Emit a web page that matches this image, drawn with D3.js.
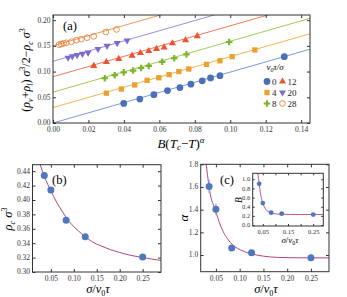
<!DOCTYPE html>
<html>
<head>
<meta charset="utf-8">
<script src="https://cdn.jsdelivr.net/npm/d3@7"></script>
<style>
  body { margin: 0; background: #fff; }
  svg { display: block; font-family: "Liberation Serif", "DejaVu Serif", serif; }
  .tick text { font-size: 7.5px; fill: #333; font-family: "Liberation Serif", serif; }
  .tick line { stroke: #333; }
  .domain { stroke: none; }
</style>
</head>
<body>
<div id="chart"></div>
<script>
// ---- panel (a): one series per v0*tau/sigma
var seriesNames = ["0", "4", "8", "12", "20", "28"];
var seriesColors = ["#4a70b8", "#eaa12e", "#7db530", "#ee5230", "#7a6cce", "#e8823c"];
var lineColors = ["#7c9ad6", "#f2b451", "#9fcc55", "#f07a5a", "#9a8fe0", "#eb9a5a"];
var fitIntercepts = [0.0, 0.03, 0.06, 0.09, 0.12, 0.15];
var fitSlope = 0.99;

var x0 = [0.0399, 0.0490, 0.0569, 0.0646, 0.0716, 0.0778, 0.0842, 0.0889, 0.0942, 0.1305];
var y0 = [0.0380, 0.0465, 0.0550, 0.0630, 0.0690, 0.0755, 0.0820, 0.0877, 0.0920, 0.1290];
var x4 = [0.0301, 0.0386, 0.0461, 0.0531, 0.0597, 0.0655, 0.0710, 0.0766, 0.0866, 0.0942, 0.1011, 0.1139];
var y4 = [0.0580, 0.0660, 0.0740, 0.0830, 0.0880, 0.0940, 0.1000, 0.1050, 0.1140, 0.1210, 0.1290, 0.1420];
var x8 = [0.0292, 0.0348, 0.0399, 0.0452, 0.0497, 0.0540, 0.0616, 0.0684, 0.0753, 0.0994];
var y8 = [0.0870, 0.0930, 0.0985, 0.1020, 0.1070, 0.1110, 0.1190, 0.1260, 0.1335, 0.1575];
var x12 = [0.0230, 0.0301, 0.0371, 0.0446, 0.0493, 0.0540, 0.0584, 0.0627, 0.0674, 0.0748, 0.0814];
var y12 = [0.1110, 0.1185, 0.1245, 0.1310, 0.1360, 0.1400, 0.1440, 0.1470, 0.1550, 0.1610, 0.1690];
var x20 = [0.0085, 0.0109, 0.0136, 0.0166, 0.0198, 0.0254, 0.0305, 0.0362, 0.0418];
var y20 = [0.1270, 0.1297, 0.1320, 0.1345, 0.1370, 0.1440, 0.1500, 0.1555, 0.1605];
var x28 = [0.0034, 0.0047, 0.0060, 0.0075, 0.0104, 0.0132, 0.0160, 0.0192, 0.0230, 0.0298, 0.0358];
var y28 = [0.1523, 0.1535, 0.1550, 0.1560, 0.1580, 0.1610, 0.1630, 0.1660, 0.1685, 0.1770, 0.1820];

var aXTicks = [0, 0.02, 0.04, 0.06, 0.08, 0.10, 0.12, 0.14];
var aYTicks = [0, 0.05, 0.10, 0.15, 0.20];

// ---- panels (b), (c) and inset: x = sigma / (v0 tau)
var invSpeed = [0.0357, 0.05, 0.0833, 0.125, 0.25];
var rhoC = [0.434, 0.414, 0.372, 0.349, 0.321];
var alpha = [1.604, 1.404, 1.062, 1.020, 0.975];
var alphaErr = [0.06, 0.05, 0.025, 0.015, 0.03];
var bAmp = [0.90, 0.48, 0.27, 0.25, 0.23];

// fitted curves
var bCurveX = [0.024, 0.030, 0.0357, 0.043, 0.05, 0.06, 0.07, 0.08, 0.09, 0.10, 0.11, 0.125, 0.14, 0.16, 0.18, 0.20, 0.225, 0.25, 0.27, 0.29];
var bCurveY = [0.455, 0.443, 0.433, 0.422, 0.413, 0.400, 0.389, 0.379, 0.370, 0.363, 0.357, 0.349, 0.342, 0.336, 0.331, 0.327, 0.323, 0.320, 0.318, 0.316];
var cCurveX = [0.028, 0.031, 0.0357, 0.040, 0.045, 0.05, 0.057, 0.065, 0.075, 0.085, 0.095, 0.11, 0.125, 0.15, 0.18, 0.21, 0.25, 0.29];
var cCurveY = [1.85, 1.75, 1.60, 1.50, 1.44, 1.38, 1.29, 1.21, 1.14, 1.09, 1.06, 1.03, 1.01, 0.99, 0.979, 0.976, 0.975, 0.975];
var iCurveX = [0.030, 0.033, 0.0357, 0.040, 0.045, 0.05, 0.056, 0.063, 0.070, 0.083, 0.095, 0.11, 0.125, 0.16, 0.20, 0.25, 0.29];
var iCurveY = [1.15, 1.02, 0.90, 0.72, 0.58, 0.48, 0.40, 0.335, 0.30, 0.265, 0.250, 0.240, 0.236, 0.232, 0.230, 0.230, 0.230];

var sXTicks = [0.05, 0.10, 0.15, 0.20, 0.25];
var iXLabels = [0.05, 0.15, 0.25];
var bYTicks = [0.30, 0.32, 0.34, 0.36, 0.38, 0.40, 0.42, 0.44];
var cYTicks = [1.0, 1.2, 1.4, 1.6, 1.8];
var iYTicks = [0.0, 0.2, 0.4, 0.6, 0.8, 1.0];

var W = 347, H = 297;
var svg = d3.select("#chart").append("svg").attr("width", W).attr("height", H);

function frame(x, y, xt, yt, fx, fy, fs, tl) {
	var g = svg.append("g");
	var r = x.range(), s = y.range();
	tl = tl || 3;
	g.append("g").attr("transform", "translate(0," + s[0] + ")")
		.call(d3.axisBottom(x).tickValues(xt).tickFormat(fx).tickSizeInner(-tl).tickSizeOuter(0).tickPadding(3.5));
	g.append("g").attr("transform", "translate(0," + s[1] + ")")
		.call(d3.axisTop(x).tickValues(xt).tickFormat("").tickSizeInner(-tl).tickSizeOuter(0));
	var yl = g.append("g").attr("transform", "translate(" + r[0] + ",0)")
		.call(d3.axisLeft(y).tickValues(yt).tickFormat(fy).tickSizeInner(-tl).tickSizeOuter(0).tickPadding(2.5));
	yl.selectAll(".tick text").attr("dy", "0.25em");
	g.append("g").attr("transform", "translate(" + r[1] + ",0)")
		.call(d3.axisRight(y).tickValues(yt).tickFormat("").tickSizeInner(-tl).tickSizeOuter(0));
	if (fs) g.selectAll(".tick text").style("font-size", fs + "px");
	g.append("rect").attr("x", r[0]).attr("y", s[1])
		.attr("width", r[1] - r[0]).attr("height", s[0] - s[1])
		.attr("fill", "none").attr("stroke", "#333").attr("stroke-width", 1);
	return g;
}

function clip(id, x, y) {
	var r = x.range(), s = y.range();
	svg.append("clipPath").attr("id", id).append("rect")
		.attr("x", r[0]).attr("y", s[1]).attr("width", r[1] - r[0]).attr("height", s[0] - s[1]);
	return "url(#" + id + ")";
}

// =================== (a)
var ax = d3.scaleLinear().domain([0, 0.145]).range([53, 310]);
var ay = d3.scaleLinear().domain([0, 0.21]).range([123, 15]);
var aClip = clip("ca", ax, ay);

var seriesX = [x0, x4, x8, x12, x20, x28];
var seriesY = [y0, y4, y8, y12, y20, y28];

var lines = svg.append("g").attr("clip-path", aClip);
fitIntercepts.forEach(function(b, i) {
	var d = ax.domain();
	lines.append("line")
		.attr("x1", ax(d[0])).attr("y1", ay(b + fitSlope * d[0]))
		.attr("x2", ax(d[1])).attr("y2", ay(b + fitSlope * d[1]))
		.attr("stroke", lineColors[i]).attr("stroke-width", 1);
});

var shapes = [d3.symbolCircle, d3.symbolSquare, d3.symbolCross, d3.symbolTriangle, d3.symbolTriangle, d3.symbolCircle];
var sizes = [36, 28, 24, 22, 22, 26];

function marker(sel, i, px, py) {
	var p = sel.append("path")
		.attr("d", d3.symbol().type(shapes[i]).size(sizes[i]))
		.attr("transform", "translate(" + px + "," + py + ")" + (i === 4 ? " rotate(180)" : ""));
	if (i === 5) p.attr("fill", "none").attr("stroke", seriesColors[i]).attr("stroke-width", 0.9);
	else p.attr("fill", seriesColors[i]);
	return p;
}

var pts = svg.append("g");
seriesX.forEach(function(xs, i) {
	xs.forEach(function(v, j) {
		marker(pts, i, ax(v), ay(seriesY[i][j]));
	});
});

frame(ax, ay, aXTicks, aYTicks, d3.format(".2f"), d3.format(".2f"));

svg.append("text").attr("x", 63).attr("y", 30).attr("font-size", 12.5).text("(a)");

// legend
var leg = svg.append("g");
var lt = leg.append("text").attr("x", 275).attr("y", 70).attr("text-anchor", "middle")
	.attr("font-size", 9).attr("font-style", "italic");
lt.append("tspan").text("v");
lt.append("tspan").attr("dy", 2).attr("font-size", 6).text("0");
lt.append("tspan").attr("dy", -2).text("τ/σ");
var legRows = [81.5, 92.5, 103.5];
seriesNames.forEach(function(nm, i) {
	var col = i < 3 ? 0 : 1, row = i % 3;
	var mx = col === 0 ? 267 : 282.5;
	marker(leg, i, mx, legRows[row]);
	leg.append("text").attr("x", mx + 5).attr("y", legRows[row] + 3)
		.attr("font-size", 9).attr("fill", "#222").text(nm);
});

// axis labels (a)
var axl = svg.append("text").attr("x", 181).attr("y", 147.5).attr("text-anchor", "middle")
	.attr("font-size", 13).attr("font-style", "italic");
axl.append("tspan").text("B");
axl.append("tspan").attr("font-style", "normal").text("(");
axl.append("tspan").text("T");
axl.append("tspan").attr("dy", 2.5).attr("font-size", 9).text("c");
axl.append("tspan").attr("dy", -2.5).attr("font-style", "normal").text("−");
axl.append("tspan").text("T");
axl.append("tspan").attr("font-style", "normal").text(")");
axl.append("tspan").attr("dy", -5).attr("font-size", 9).text("α");

var ayl = svg.append("text").attr("transform", "translate(30,70) rotate(-90)")
	.attr("text-anchor", "middle").attr("font-size", 12).attr("font-style", "italic");
ayl.append("tspan").attr("font-style", "normal").text("(");
ayl.append("tspan").text("ρ");
ayl.append("tspan").attr("dy", 2.5).attr("font-size", 8).text("v");
ayl.append("tspan").attr("dy", -2.5).attr("font-style", "normal").text("+");
ayl.append("tspan").text("ρ");
ayl.append("tspan").attr("dy", 2.5).attr("font-size", 8).text("l");
ayl.append("tspan").attr("dy", -2.5).attr("font-style", "normal").text(") ");
ayl.append("tspan").text("σ");
ayl.append("tspan").attr("dy", -5).attr("font-size", 8).attr("font-style", "normal").text("3");
ayl.append("tspan").attr("dy", 5).attr("font-style", "normal").text("/2−");
ayl.append("tspan").text("ρ");
ayl.append("tspan").attr("dy", 2.5).attr("font-size", 8).text("c");
ayl.append("tspan").attr("dy", -2.5).text(" σ");
ayl.append("tspan").attr("dy", -5).attr("font-size", 8).attr("font-style", "normal").text("3");

var curveColor = "#b0457e", ptColor = "#4f77c0";

// =================== (b)
var bx = d3.scaleLinear().domain([0.01, 0.29]).range([32.5, 161]);
var by = d3.scaleLinear().domain([0.30, 0.449]).range([272, 164.7]);
var bClip = clip("cb", bx, by);
var lineB = d3.line().x(function(d) { return bx(d[0]); }).y(function(d) { return by(d[1]); }).curve(d3.curveMonotoneX);
svg.append("path").attr("clip-path", bClip).attr("d", lineB(d3.zip(bCurveX, bCurveY)))
	.attr("fill", "none").attr("stroke", curveColor).attr("stroke-width", 1);
svg.append("g").selectAll("circle").data(d3.zip(invSpeed, rhoC)).enter().append("circle")
	.attr("cx", function(d) { return bx(d[0]); }).attr("cy", function(d) { return by(d[1]); })
	.attr("r", 3.5).attr("fill", ptColor);
frame(bx, by, sXTicks, bYTicks, d3.format(".2f"), d3.format(".2f"));
svg.append("text").attr("x", 52).attr("y", 184).attr("font-size", 12.5).text("(b)");

var bxl = svg.append("text").attr("x", 98).attr("y", 293).attr("text-anchor", "middle")
	.attr("font-size", 12.5).attr("font-style", "italic");
bxl.append("tspan").text("σ");
bxl.append("tspan").attr("font-style", "normal").text("/");
bxl.append("tspan").text("v");
bxl.append("tspan").attr("dy", 2.5).attr("font-size", 8).attr("font-style", "normal").text("0");
bxl.append("tspan").attr("dy", -2.5).text("τ");
var byl = svg.append("text").attr("transform", "translate(12,219) rotate(-90)")
	.attr("text-anchor", "middle").attr("font-size", 12.5).attr("font-style", "italic");
byl.append("tspan").text("ρ");
byl.append("tspan").attr("dy", 2.5).attr("font-size", 8).text("c");
byl.append("tspan").attr("dy", -2.5).text(" σ");
byl.append("tspan").attr("dy", -5).attr("font-size", 8).attr("font-style", "normal").text("3");

// =================== (c)
var cx = d3.scaleLinear().domain([0.018, 0.288]).range([200.7, 329]);
var cy = d3.scaleLinear().domain([0.853, 1.8]).range([271.7, 164.3]);
var cClip = clip("cc", cx, cy);
var lineC = d3.line().x(function(d) { return cx(d[0]); }).y(function(d) { return cy(d[1]); }).curve(d3.curveMonotoneX);
svg.append("path").attr("clip-path", cClip).attr("d", lineC(d3.zip(cCurveX, cCurveY)))
	.attr("fill", "none").attr("stroke", curveColor).attr("stroke-width", 1);
var cp = svg.append("g");
invSpeed.forEach(function(v, i) {
	cp.append("line").attr("x1", cx(v)).attr("x2", cx(v))
		.attr("y1", cy(alpha[i] - alphaErr[i])).attr("y2", cy(alpha[i] + alphaErr[i]))
		.attr("stroke", "#86a3dc").attr("stroke-width", 1.2);
	cp.append("circle").attr("cx", cx(v)).attr("cy", cy(alpha[i])).attr("r", 3.5).attr("fill", ptColor);
});
frame(cx, cy, sXTicks, cYTicks, d3.format(".2f"), d3.format(".1f"));
svg.append("text").attr("x", 220).attr("y", 184).attr("font-size", 12.5).text("(c)");

var cxl = svg.append("text").attr("x", 266).attr("y", 293).attr("text-anchor", "middle")
	.attr("font-size", 12.5).attr("font-style", "italic");
cxl.append("tspan").text("σ");
cxl.append("tspan").attr("font-style", "normal").text("/");
cxl.append("tspan").text("v");
cxl.append("tspan").attr("dy", 2.5).attr("font-size", 8).attr("font-style", "normal").text("0");
cxl.append("tspan").attr("dy", -2.5).text("τ");
svg.append("text").attr("transform", "translate(188,218) rotate(-90)")
	.attr("text-anchor", "middle").attr("font-size", 13).attr("font-style", "italic").text("α");

// inset
var ix = d3.scaleLinear().domain([0.01, 0.29]).range([252.7, 323.3]);
var iy = d3.scaleLinear().domain([-0.02, 1.13]).range([226, 173.3]);
svg.append("rect").attr("x", 252.7).attr("y", 173.3).attr("width", 70.6).attr("height", 52.7).attr("fill", "#fff");
var iClip = clip("ci", ix, iy);
var lineI = d3.line().x(function(d) { return ix(d[0]); }).y(function(d) { return iy(d[1]); }).curve(d3.curveMonotoneX);
svg.append("path").attr("clip-path", iClip).attr("d", lineI(d3.zip(iCurveX, iCurveY)))
	.attr("fill", "none").attr("stroke", curveColor).attr("stroke-width", 0.9);
svg.append("g").selectAll("circle").data(d3.zip(invSpeed, bAmp)).enter().append("circle")
	.attr("cx", function(d) { return ix(d[0]); }).attr("cy", function(d) { return iy(d[1]); })
	.attr("r", 2.4).attr("fill", ptColor);
frame(ix, iy, sXTicks, iYTicks,
	function(d) { return iXLabels.indexOf(d) >= 0 ? d3.format(".2f")(d) : ""; },
	d3.format(".1f"), 6.5, 2);
var ixl = svg.append("text").attr("x", 290).attr("y", 243).attr("text-anchor", "middle")
	.attr("font-size", 9).attr("font-style", "italic");
ixl.append("tspan").text("σ");
ixl.append("tspan").attr("font-style", "normal").text("/");
ixl.append("tspan").text("v");
ixl.append("tspan").attr("dy", 2).attr("font-size", 6).attr("font-style", "normal").text("0");
ixl.append("tspan").attr("dy", -2).text("τ");
svg.append("text").attr("transform", "translate(242,200) rotate(-90)")
	.attr("text-anchor", "middle").attr("font-size", 9.5).attr("font-style", "italic").text("B");
</script>
</body>
</html>
